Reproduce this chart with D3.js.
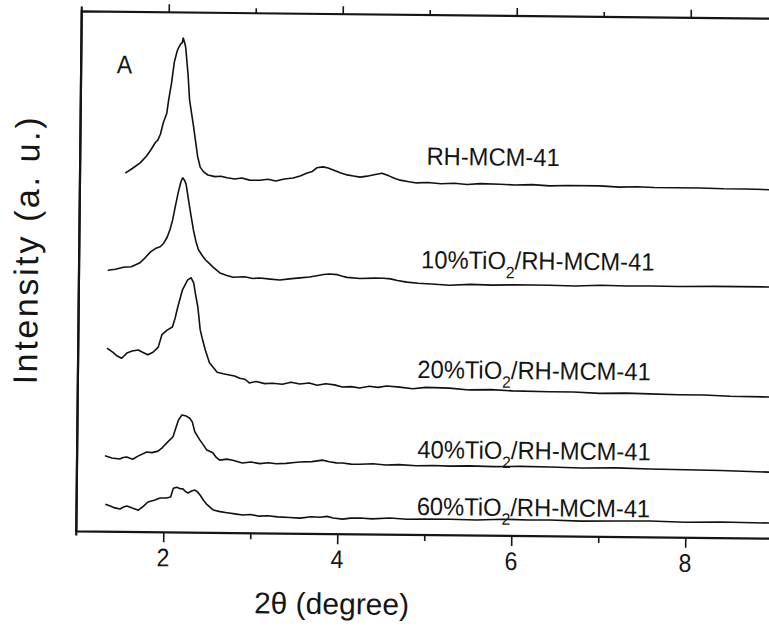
<!DOCTYPE html>
<html>
<head>
<meta charset="utf-8">
<script src="https://cdn.jsdelivr.net/npm/d3@7/dist/d3.min.js"></script>
<style>
  body { margin: 0; background: #fff; }
  svg { display: block; }
  text { font-family: "Liberation Sans", Arial, sans-serif; fill: #151515; }
</style>
</head>
<body>
<svg id="chart" width="769" height="629"></svg>
<script>
// XRD patterns, low-angle region: [2θ (degree), intensity (a.u., stacked)]
const rhMCM41 = [[1.52,69.0],[1.60,69.9],[1.69,71.0],[1.76,72.3],[1.81,73.5],[1.86,74.9],[1.89,75.4],[1.92,76.6],[1.95,78.7],[1.99,80.6],[2.01,83.2],[2.04,86.3],[2.07,90.4],[2.10,92.5],[2.12,93.3],[2.14,93.9],[2.16,94.2],[2.17,95.1],[2.19,94.0],[2.20,93.2],[2.23,88.0],[2.25,83.2],[2.30,78.0],[2.35,72.3],[2.38,70.3],[2.42,69.4],[2.47,68.8],[2.55,68.5],[2.62,68.6],[2.69,68.3],[2.78,68.1],[2.86,68.3],[2.95,67.9],[3.07,67.9],[3.16,68.1],[3.25,67.8],[3.35,68.2],[3.45,68.4],[3.53,68.8],[3.61,69.4],[3.67,69.7],[3.72,70.4],[3.79,70.6],[3.85,70.4],[3.91,70.0],[3.99,69.5],[4.07,69.1],[4.14,68.9],[4.22,68.7],[4.30,68.9],[4.38,69.2],[4.47,69.5],[4.55,69.0],[4.62,68.5],[4.68,68.2],[4.78,67.9],[4.87,67.7],[5.00,67.8],[5.15,67.6],[5.30,67.7],[5.45,67.5],[5.60,67.7],[5.83,67.6],[6.00,67.5],[6.20,67.6],[6.40,67.4],[6.60,67.5],[6.98,67.5],[7.20,67.3],[7.40,67.4],[7.60,67.3],[7.85,67.3],[8.13,67.3],[8.40,67.2],[8.65,67.2],[8.92,67.1],[9.30,67.0],[9.90,67.0]];

const tio2_10 = [[1.33,50.3],[1.42,50.5],[1.51,50.9],[1.60,51.0],[1.70,51.8],[1.76,52.8],[1.82,53.9],[1.88,54.6],[1.93,54.9],[1.97,55.6],[2.01,56.8],[2.04,58.2],[2.07,60.1],[2.10,62.8],[2.13,65.3],[2.16,67.4],[2.18,68.2],[2.20,67.8],[2.22,67.0],[2.25,64.0],[2.28,61.0],[2.31,58.2],[2.34,56.0],[2.37,54.4],[2.41,53.4],[2.45,52.5],[2.49,51.9],[2.54,51.1],[2.62,50.0],[2.70,49.5],[2.77,49.2],[2.90,49.3],[3.00,49.0],[3.08,49.1],[3.20,48.9],[3.31,48.75],[3.42,49.0],[3.54,49.2],[3.65,49.4],[3.75,49.7],[3.81,49.9],[3.88,50.0],[3.97,49.9],[4.03,49.6],[4.08,49.4],[4.23,49.2],[4.40,49.3],[4.50,49.3],[4.58,49.2],[4.66,48.9],[4.77,48.6],[4.90,48.4],[5.05,48.3],[5.26,48.1],[5.50,48.3],[5.75,48.2],[6.00,48.3],[6.41,48.3],[6.70,48.2],[7.00,48.4],[7.30,48.3],[7.56,48.35],[7.90,48.3],[8.30,48.4],[8.93,48.4],[9.90,48.4]];

const tio2_20 = [[1.33,35.3],[1.40,34.5],[1.45,33.8],[1.50,33.4],[1.56,34.4],[1.62,34.8],[1.69,35.0],[1.74,34.6],[1.80,34.1],[1.86,34.6],[1.92,35.6],[1.96,38.0],[2.02,38.9],[2.08,39.5],[2.11,41.2],[2.14,43.4],[2.19,46.6],[2.25,48.6],[2.29,49.0],[2.32,48.0],[2.34,46.0],[2.37,43.4],[2.40,39.0],[2.43,37.0],[2.46,35.2],[2.51,32.7],[2.60,30.9],[2.67,30.6],[2.74,30.4],[2.80,30.2],[2.86,29.8],[2.92,29.6],[2.97,28.9],[3.05,29.2],[3.15,28.8],[3.24,28.9],[3.35,28.7],[3.45,29.1],[3.55,28.8],[3.66,29.0],[3.75,28.6],[3.85,28.9],[3.95,28.7],[4.04,28.3],[4.14,28.4],[4.24,28.15],[4.35,28.5],[4.45,28.3],[4.55,28.6],[4.70,28.4],[4.85,28.1],[5.00,28.4],[5.27,28.3],[5.50,28.0],[5.75,28.1],[6.00,27.9],[6.42,27.8],[6.70,27.8],[7.00,27.6],[7.30,27.7],[7.57,27.6],[7.90,27.5],[8.20,27.5],[8.50,27.3],[8.94,27.25],[9.90,27.1]];

const tio2_40 = [[1.32,14.6],[1.40,14.2],[1.49,14.0],[1.53,14.3],[1.57,14.4],[1.64,14.0],[1.70,14.6],[1.80,15.4],[1.86,15.3],[1.93,15.6],[1.98,16.3],[2.03,17.2],[2.10,18.4],[2.13,20.0],[2.16,21.6],[2.20,22.6],[2.25,22.4],[2.29,22.0],[2.32,21.3],[2.35,19.4],[2.41,17.8],[2.45,16.9],[2.49,15.9],[2.56,15.4],[2.60,14.5],[2.64,14.0],[2.72,14.2],[2.79,14.0],[2.90,13.5],[3.00,13.7],[3.10,13.4],[3.20,13.6],[3.29,13.4],[3.40,13.5],[3.50,13.7],[3.56,13.8],[3.70,13.9],[3.82,14.2],[3.90,13.9],[3.98,13.7],[4.05,13.7],[4.15,13.5],[4.25,13.5],[4.40,13.6],[4.55,13.4],[4.70,13.5],[4.90,13.3],[5.10,13.4],[5.28,13.3],[5.50,13.4],[5.80,13.3],[6.10,13.4],[6.43,13.35],[6.80,13.2],[7.20,13.3],[7.58,13.15],[8.00,13.1],[8.40,13.0],[8.95,12.8],[9.90,12.7]];

const tio2_60 = [[1.33,5.3],[1.38,5.0],[1.44,4.6],[1.50,4.4],[1.54,4.8],[1.58,5.0],[1.64,4.6],[1.71,4.2],[1.77,5.0],[1.82,5.8],[1.90,6.2],[1.96,6.6],[2.03,6.6],[2.08,6.8],[2.11,8.5],[2.15,8.7],[2.19,8.4],[2.22,8.4],[2.25,7.9],[2.28,7.6],[2.32,8.0],[2.36,8.2],[2.39,7.8],[2.42,7.2],[2.46,6.2],[2.50,5.4],[2.57,4.4],[2.65,4.1],[2.73,3.9],[2.82,3.7],[2.91,3.5],[3.00,3.6],[3.10,3.3],[3.20,3.4],[3.31,3.2],[3.45,3.1],[3.57,3.0],[3.70,3.3],[3.80,3.2],[3.88,3.4],[3.95,3.1],[4.06,2.9],[4.15,3.1],[4.26,3.15],[4.40,3.0],[4.60,3.2],[4.80,3.0],[5.00,3.1],[5.29,3.1],[5.60,3.0],[5.90,3.2],[6.20,3.1],[6.44,3.15],[6.80,3.0],[7.20,3.1],[7.59,3.15],[8.00,3.0],[8.40,3.1],[8.96,3.0],[9.90,2.9]];

const patterns = [rhMCM41, tio2_10, tio2_20, tio2_40, tio2_60];

// Sample labels: [prefix, subscript, suffix]
const sampleLabels = [
  ["RH-MCM-41", "", ""],
  ["10%TiO", "2", "/RH-MCM-41"],
  ["20%TiO", "2", "/RH-MCM-41"],
  ["40%TiO", "2", "/RH-MCM-41"],
  ["60%TiO", "2", "/RH-MCM-41"]
];
// Label anchors in data units: [2θ, intensity]
const labelAnchors = [[4.98, 71.2], [4.93, 51.3], [4.90, 30.2], [4.91, 14.8], [4.91, 3.85]];

const majorTicks = [2, 4, 6, 8, 10];
const labelledTicks = [2, 4, 6, 8];
const minorTicks = [3, 5, 7, 9];
const xTitle = "2\u03B8 (degree)";
const yTitle = "Intensity (a. u.)";
const panelLetter = "A";

const svg = d3.select("#chart");
const x = d3.scaleLinear().domain([1, 10]).range([79, 862]);
const y = d3.scaleLinear().domain([0, 100]).range([535, 15]);

// the whole figure sits slightly tilted on the page
const g = svg.append("g").attr("transform", "rotate(0.6,420,275)");

// the lettering is a little taller than it is wide
function label(px, py, size, sx) {
  return g.append("text")
    .attr("transform", `translate(${px},${py}) scale(${sx},1)`)
    .attr("font-size", size);
}

// tick marks (outward) on bottom and top edges
function ticks(axisFn, values, size, yPos) {
  const a = axisFn(x).tickValues(values).tickSize(size).tickFormat("");
  const ag = g.append("g").attr("transform", `translate(0,${yPos})`).call(a);
  ag.select(".domain").remove();
  ag.selectAll("line").attr("stroke", "#151515").attr("stroke-width", 1.6);
  return ag;
}
ticks(d3.axisBottom, majorTicks, 10, y(0));
ticks(d3.axisBottom, minorTicks, 6, y(0));
ticks(d3.axisTop, majorTicks, 8, y(100));
ticks(d3.axisTop, minorTicks, 5, y(100));

labelledTicks.forEach(v => {
  label(x(v), y(0) + 34, 25.5, 0.9).attr("text-anchor", "middle").text(v);
});

// frame: top, left and bottom edges
g.append("path")
  .attr("d", `M${x(10)},${y(100)}H${x(1)}V${y(0)}H${x(10)}`)
  .attr("fill", "none").attr("stroke", "#151515").attr("stroke-width", 2.2);
g.append("line").attr("x1", x(1)).attr("x2", x(1))
  .attr("y1", y(100) - 5).attr("y2", y(0) + 4)
  .attr("stroke", "#151515").attr("stroke-width", 2.2);

// patterns
const line = d3.line().x(d => x(d[0])).y(d => y(d[1]));
g.selectAll(".pattern").data(patterns).join("path")
  .attr("class", "pattern")
  .attr("d", line)
  .attr("fill", "none").attr("stroke", "#111")
  .attr("stroke-width", 1.6).attr("stroke-linejoin", "round");

// sample labels
sampleLabels.forEach((lab, i) => {
  const t = label(x(labelAnchors[i][0]), y(labelAnchors[i][1]), 25, 0.95);
  t.append("tspan").text(lab[0]);
  if (lab[1]) {
    t.append("tspan").text(lab[1]).attr("font-size", 16.5).attr("dy", 9);
    t.append("tspan").text(lab[2]).attr("dy", -9);
  }
});

// panel letter
label(x(1.41), y(88.2), 25.5, 0.9).text(panelLetter);

// axis titles
g.append("text").attr("x", 335).attr("y", 615)
  .attr("text-anchor", "middle").attr("font-size", 30).text(xTitle);
g.append("text")
  .attr("transform", "translate(38,255) rotate(-90)")
  .attr("text-anchor", "middle").attr("font-size", 34)
  .attr("textLength", 267).attr("lengthAdjust", "spacing")
  .text(yTitle);
</script>
</body>
</html>
